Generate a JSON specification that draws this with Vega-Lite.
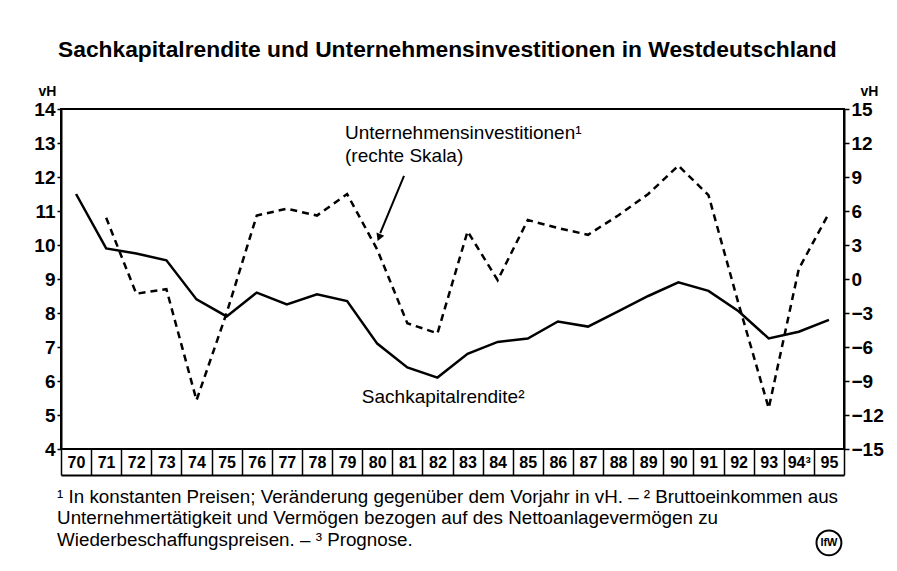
{
  "$schema": "https://vega.github.io/schema/vega-lite/v6.json",
  "width": 783,
  "height": 340,
  "autosize": {"type": "none"},
  "padding": {"left": 61, "top": 109, "right": 53, "bottom": 122},
  "background": "white",
  "title": {
    "text": "Sachkapitalrendite und Unternehmensinvestitionen in Westdeutschland",
    "anchor": "start",
    "frame": "group",
    "fontSize": 22.8,
    "fontWeight": "bold",
    "color": "black",
    "baseline": "alphabetic",
    "offset": 4,
    "dx": -3
  },
  "config": {
    "font": "Liberation Sans, Arial, sans-serif",
    "view": {"stroke": "black", "strokeWidth": 2},
    "axis": {"grid": false, "domainColor": "black", "tickColor": "black", "labelColor": "black", "titleColor": "black", "labelFlush": false, "labelOverlap": false, "labelBound": false}
  },
  "datasets": {
    "main": [
      {"year": 70, "rendite": 11.5, "invest": null},
      {"year": 71, "rendite": 9.9, "invest": 5.4},
      {"year": 72, "rendite": 9.75, "invest": -1.3},
      {"year": 73, "rendite": 9.55, "invest": -0.9},
      {"year": 74, "rendite": 8.4, "invest": -10.7},
      {"year": 75, "rendite": 7.9, "invest": -3.0},
      {"year": 76, "rendite": 8.6, "invest": 5.6},
      {"year": 77, "rendite": 8.25, "invest": 6.2},
      {"year": 78, "rendite": 8.55, "invest": 5.6},
      {"year": 79, "rendite": 8.35, "invest": 7.5},
      {"year": 80, "rendite": 7.1, "invest": 2.6},
      {"year": 81, "rendite": 6.4, "invest": -3.9},
      {"year": 82, "rendite": 6.1, "invest": -4.8},
      {"year": 83, "rendite": 6.8, "invest": 4.2},
      {"year": 84, "rendite": 7.15, "invest": -0.1},
      {"year": 85, "rendite": 7.25, "invest": 5.2},
      {"year": 86, "rendite": 7.75, "invest": 4.5},
      {"year": 87, "rendite": 7.6, "invest": 3.9},
      {"year": 88, "rendite": 8.05, "invest": 5.6},
      {"year": 89, "rendite": 8.5, "invest": 7.5},
      {"year": 90, "rendite": 8.9, "invest": 10.0},
      {"year": 91, "rendite": 8.65, "invest": 7.4},
      {"year": 92, "rendite": 8.05, "invest": -2.2},
      {"year": 93, "rendite": 7.25, "invest": -11.4},
      {"year": 94, "rendite": 7.45, "invest": 0.9},
      {"year": 95, "rendite": 7.8, "invest": 5.8}
    ],
    "labels": [
      {"x": 78.93, "y": 13.29, "t": "Unternehmensinvestitionen¹"},
      {"x": 78.93, "y": 12.62, "t": "(rechte Skala)"},
      {"x": 79.49, "y": 5.53, "t": "Sachkapitalrendite²"}
    ],
    "notes": [
      {"x": 69.37, "y": 2.59, "t": "¹ In konstanten Preisen; Veränderung gegenüber dem Vorjahr in vH. – ² Bruttoeinkommen aus"},
      {"x": 69.37, "y": 1.97, "t": "Unternehmertätigkeit und Vermögen bezogen auf des Nettoanlagevermögen zu"},
      {"x": 69.37, "y": 1.32, "t": "Wiederbeschaffungspreisen. – ³ Prognose."}
    ],
    "arrow": [{"x": 80.89, "y": 12.03, "x2": 80.1, "y2": 10.35}],
    "arrowhead": [{"x": 80.06, "y": 10.22}],
    "logo": [{"x": 95, "y": 1.24, "t": "IfW"}]
  },
  "layer": [
    {
      "layer": [
        {
          "data": {"name": "main"},
          "mark": {"type": "line", "color": "black", "strokeWidth": 2.5},
          "encoding": {
            "x": {
              "field": "year", "type": "quantitative",
              "scale": {"domain": [69.5, 95.5], "nice": false, "zero": false},
              "axis": {
                "title": null,
                "values": [69.5, 70.5, 71.5, 72.5, 73.5, 74.5, 75.5, 76.5, 77.5, 78.5, 79.5, 80.5, 81.5, 82.5, 83.5, 84.5, 85.5, 86.5, 87.5, 88.5, 89.5, 90.5, 91.5, 92.5, 93.5, 94.5, 95.5],
                "tickCount": 100,
                "offset": 26,
                "tickSize": -26,
                "tickWidth": 1.5,
                "domainWidth": 2,
                "labelExpr": "datum.value > 95 ? '' : (datum.value == 93.5 ? '94³' : format(datum.value + 0.5, 'd'))",
                "labelOffset": 15,
                "labelPadding": 13,
                "labelBaseline": "middle",
                "labelAlign": "center",
                "labelFontSize": 16,
                "labelFontWeight": "bold",
                "labelOverlap": false,
                "labelFlush": false,
                "labelBound": false
              }
            },
            "y": {
              "field": "rendite", "type": "quantitative",
              "scale": {"domain": [4, 14], "nice": false, "zero": false},
              "axis": {
                "title": "vH",
                "titleAngle": 0,
                "titleX": -14,
                "titleY": -14,
                "titleAlign": "center",
                "titleBaseline": "alphabetic",
                "titleFontSize": 14,
                "titleFontWeight": "bold",
                "values": [4, 5, 6, 7, 8, 9, 10, 11, 12, 13, 14],
                "tickCount": 100,
                "format": "d",
                "tickSize": 4,
                "tickWidth": 1.5,
                "domainWidth": 2,
                "labelPadding": 2,
                "labelFontSize": 19,
                "labelFontWeight": "bold",
                "labelOverlap": false,
                "labelFlush": false,
                "labelBound": false
              }
            }
          }
        },
        {
          "data": {"name": "labels"},
          "mark": {"type": "text", "align": "left", "baseline": "middle", "fontSize": 19, "color": "black"},
          "encoding": {
            "x": {"field": "x", "type": "quantitative"},
            "y": {"field": "y", "type": "quantitative"},
            "text": {"field": "t"}
          }
        },
        {
          "data": {"name": "notes"},
          "mark": {"type": "text", "align": "left", "baseline": "middle", "fontSize": 18.8, "color": "black"},
          "encoding": {
            "x": {"field": "x", "type": "quantitative"},
            "y": {"field": "y", "type": "quantitative"},
            "text": {"field": "t"}
          }
        },
        {
          "data": {"name": "arrow"},
          "mark": {"type": "rule", "color": "black", "strokeWidth": 2},
          "encoding": {
            "x": {"field": "x", "type": "quantitative"},
            "y": {"field": "y", "type": "quantitative"},
            "x2": {"field": "x2"},
            "y2": {"field": "y2"}
          }
        },
        {
          "data": {"name": "arrowhead"},
          "mark": {"type": "point", "shape": "triangle-down", "angle": 22, "size": 70, "filled": true, "color": "black", "opacity": 1},
          "encoding": {
            "x": {"field": "x", "type": "quantitative"},
            "y": {"field": "y", "type": "quantitative"}
          }
        },
        {
          "data": {"name": "logo"},
          "mark": {"type": "point", "shape": "circle", "size": 620, "filled": false, "stroke": "black", "strokeWidth": 2, "opacity": 1},
          "encoding": {
            "x": {"field": "x", "type": "quantitative"},
            "y": {"field": "y", "type": "quantitative"}
          }
        },
        {
          "data": {"name": "logo"},
          "mark": {"type": "text", "align": "center", "baseline": "middle", "fontSize": 11, "fontWeight": "bold", "color": "black"},
          "encoding": {
            "x": {"field": "x", "type": "quantitative"},
            "y": {"field": "y", "type": "quantitative"},
            "text": {"field": "t"}
          }
        }
      ]
    },
    {
      "data": {"name": "main"},
      "mark": {"type": "line", "color": "black", "strokeWidth": 2.5, "strokeDash": [7, 5]},
      "encoding": {
        "x": {"field": "year", "type": "quantitative"},
        "y": {
          "field": "invest", "type": "quantitative",
          "scale": {"domain": [-15, 15], "nice": false, "zero": false},
          "axis": {
            "orient": "right",
            "title": "vH",
            "titleAngle": 0,
            "titleX": 25,
            "titleY": -14,
            "titleAlign": "center",
            "titleBaseline": "alphabetic",
            "titleFontSize": 14,
            "titleFontWeight": "bold",
            "values": [-15, -12, -9, -6, -3, 0, 3, 6, 9, 12, 15],
            "tickCount": 100,
            "format": "d",
            "tickSize": 5,
            "tickWidth": 1.5,
            "domainWidth": 2,
            "labelPadding": 2,
            "labelFontSize": 19,
            "labelFontWeight": "bold",
            "labelOverlap": false,
            "labelFlush": false,
            "labelBound": false
          }
        }
      }
    }
  ],
  "resolve": {"scale": {"y": "independent"}, "axis": {"y": "independent"}}
}
